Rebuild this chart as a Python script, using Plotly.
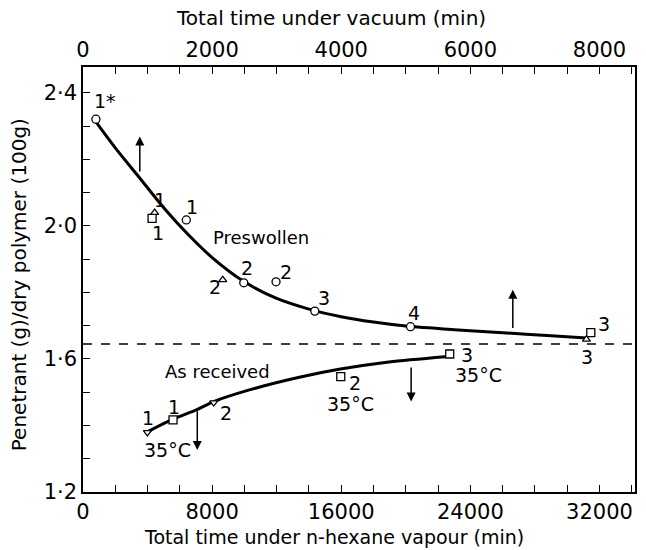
import plotly.graph_objects as go

# ---------------- data ----------------
# Preswollen measured points (hexane time, penetrant uptake)
pre_circle_x = [800, 6400, 9960, 11960, 14360, 20290]
pre_circle_y = [2.321, 2.018, 1.829, 1.832, 1.744, 1.697]
pre_square_x = [4280, 31460]
pre_square_y = [2.023, 1.679]
pre_tri_x = [4440, 8660, 31190]
pre_tri_y = [2.040, 1.838, 1.659]
# Preswollen fitted curve
pre_fit_x = [800, 2000, 3500, 5000, 6500, 8000, 10000, 12000, 14000, 16000, 18000, 20000, 23000, 26000, 29000, 31200]
pre_fit_y = [2.313, 2.235, 2.145, 2.055, 1.975, 1.905, 1.832, 1.782, 1.750, 1.727, 1.711, 1.699, 1.688, 1.679, 1.670, 1.663]

# As received points
ar_square_x = [5580, 15970, 22720]
ar_square_y = [1.417, 1.547, 1.615]
ar_tri_x = [3990, 8100]
ar_tri_y = [1.379, 1.469]
ar_fit_x = [3990, 5570, 7020, 8100, 10310, 13400, 15860, 18950, 22450]
ar_fit_y = [1.381, 1.419, 1.447, 1.472, 1.507, 1.545, 1.569, 1.591, 1.607]

dash_level = 1.645

# arrows: (x, tail y, head y)
arrow_x = [3520, 26630, 7080, 20330]
arrow_tail = [2.159, 1.689, 1.447, 1.579]
arrow_head = [2.269, 1.808, 1.326, 1.472]

# text labels
label_text = ["1*", "1", "1", "1", "2", "2", "2", "3", "4", "3", "3",
              "1", "35°C", "1", "2", "2", "35°C", "3", "35°C"]
label_x = [1360, 4750, 4630, 6730, 8150, 10190, 12590, 14940, 20500, 32280, 31240,
           4010, 5250, 5620, 8830, 16850, 16600, 23770, 24500]
label_y = [2.376, 2.078, 1.979, 2.057, 1.817, 1.874, 1.862, 1.783, 1.738, 1.705, 1.606,
           1.423, 1.326, 1.456, 1.438, 1.528, 1.465, 1.612, 1.552]
series_names = ["Preswollen", "As received"]
series_label_x = [11050, 8330]
series_label_y = [1.964, 1.561]

# axes
x_bottom_range = [0, 34200]
x_top_range = [0, 8550]
y_range = [1.2, 2.478]
x_bottom_ticks = list(range(0, 34001, 2000))
x_bottom_labels = {0: "0", 8000: "8000", 16000: "16000", 24000: "24000", 32000: "32000"}
x_top_ticks = list(range(0, 8501, 500))
x_top_labels = {0: "0", 2000: "2000", 4000: "4000", 6000: "6000", 8000: "8000"}
y_ticks = [round(1.2 + 0.1 * i, 1) for i in range(13)]
y_labels = {1.2: "1·2", 1.6: "1·6", 2.0: "2·0", 2.4: "2·4"}

FONT = "DejaVu Sans"
BLACK = "black"

fig = go.Figure()

line_style = dict(color=BLACK, width=3, shape="spline", smoothing=0.8)
fig.add_trace(go.Scatter(x=pre_fit_x, y=pre_fit_y, mode="lines", line=line_style, showlegend=False))
fig.add_trace(go.Scatter(x=ar_fit_x, y=ar_fit_y, mode="lines", line=line_style, showlegend=False))

mk = dict(color="white", line=dict(color=BLACK, width=1.3))
fig.add_trace(go.Scatter(x=pre_circle_x, y=pre_circle_y, mode="markers",
                         marker=dict(symbol="circle", size=8, **mk), showlegend=False))
fig.add_trace(go.Scatter(x=pre_square_x + ar_square_x, y=pre_square_y + ar_square_y, mode="markers",
                         marker=dict(symbol="square", size=8, **mk), showlegend=False))
fig.add_trace(go.Scatter(x=pre_tri_x, y=pre_tri_y, mode="markers",
                         marker=dict(symbol="triangle-up", size=7, **mk), showlegend=False))
fig.add_trace(go.Scatter(x=ar_tri_x, y=ar_tri_y, mode="markers",
                         marker=dict(symbol="triangle-down", size=7, **mk), showlegend=False))

# invisible trace to activate the top axis
fig.add_trace(go.Scatter(x=list(x_top_range), y=[y_range[0], y_range[0]],
                         xaxis="x2", mode="markers", marker=dict(opacity=0), showlegend=False,
                         hoverinfo="skip"))

fig.add_hline(y=dash_level, line=dict(color=BLACK, width=1.3, dash="dash"))

for xa, yt, yh in zip(arrow_x, arrow_tail, arrow_head):
    fig.add_annotation(x=xa, y=yh, ax=xa, ay=yt, xref="x", yref="y", axref="x", ayref="y",
                       text="", showarrow=True, arrowhead=2, arrowsize=1.2, arrowwidth=1.5,
                       arrowcolor=BLACK)

for t, xx, yy in zip(label_text, label_x, label_y):
    fig.add_annotation(x=xx, y=yy, text=t, showarrow=False, xanchor="center", yanchor="middle",
                       font=dict(family=FONT, size=19, color=BLACK))
for t, xx, yy in zip(series_names, series_label_x, series_label_y):
    fig.add_annotation(x=xx, y=yy, text=t, showarrow=False, xanchor="center", yanchor="middle",
                       font=dict(family=FONT, size=18, color=BLACK))

# axis titles
title_font = dict(family=FONT, size=19, color=BLACK)
fig.add_annotation(text="Total time under n-hexane vapour (min)", xref="paper", yref="paper",
                   x=(335 - 83) / 554, y=-(537 - 492) / 425, showarrow=False,
                   xanchor="center", yanchor="middle", font=title_font)
fig.add_annotation(text="Total time under vacuum (min)", xref="paper", yref="paper",
                   x=(332 - 83) / 554, y=1 + (67 - 18) / 425, showarrow=False,
                   xanchor="center", yanchor="middle", font=dict(family=FONT, size=20, color=BLACK))
fig.add_annotation(text="Penetrant (g)/dry polymer (100g)", xref="paper", yref="paper",
                   x=-(83 - 19) / 554, y=(492 - 285) / 425, showarrow=False, textangle=-90,
                   xanchor="center", yanchor="middle", font=dict(family=FONT, size=20, color=BLACK))

axis_common = dict(showgrid=False, zeroline=False, showline=True, linecolor=BLACK, linewidth=1.5,
                   ticks="inside", ticklen=7, tickwidth=1.2, tickcolor=BLACK,
                   tickfont=dict(family=FONT, size=21, color=BLACK))

fig.update_layout(
    width=646, height=550,
    margin=dict(l=83, r=9, t=67, b=58),
    paper_bgcolor="white", plot_bgcolor="white",
    showlegend=False,
    xaxis=dict(range=x_bottom_range, tickmode="array", tickvals=x_bottom_ticks,
               ticktext=[x_bottom_labels.get(v, "") for v in x_bottom_ticks], mirror=False,
               **axis_common),
    xaxis2=dict(range=x_top_range, overlaying="x", side="top", anchor="y", tickmode="array",
                tickvals=x_top_ticks, ticktext=[x_top_labels.get(v, "") for v in x_top_ticks],
                **axis_common),
    yaxis=dict(range=y_range, tickmode="array", tickvals=y_ticks,
               ticktext=[y_labels.get(v, "") for v in y_ticks], mirror=True, **axis_common),
)

fig.write_html("out.html")
